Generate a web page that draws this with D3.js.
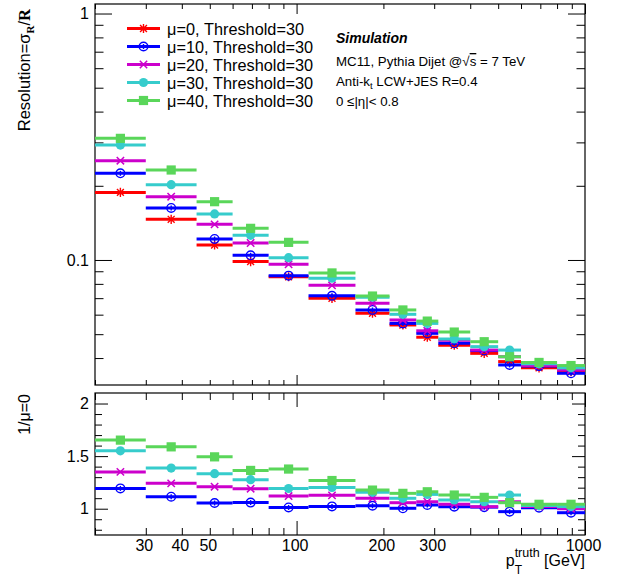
<!DOCTYPE html>
<html><head><meta charset="utf-8">
<script src="https://cdn.jsdelivr.net/npm/d3@7"></script>
<style>
body{margin:0;background:#fff;}
svg{font-family:"Liberation Sans",Arial,Helvetica,sans-serif;}
.axis path.domain{display:none;}
.axis line{stroke:#000;stroke-width:1;}
.axis text{font-size:16px;fill:#000;font-family:"Liberation Sans",Arial,sans-serif;}
</style></head>
<body><svg id="c" width="628" height="578"></svg>
<script>
// ---- data ----
const binEdges = [20,30,45,60,80,110,160,210,260,310,400,500,600,800,1000];
const seriesNames = ["μ=0, Threshold=30","μ=10, Threshold=30","μ=20, Threshold=30","μ=30, Threshold=30","μ=40, Threshold=30"];
const res_mu0  = [0.188,0.1462,0.1150,0.0985,0.0855,0.0699,0.0608,0.0545,0.0486,0.0451,0.0418,0.0387,0.0365,0.0352];
const res_mu10 = [0.2247,0.1626,0.1217,0.1045,0.0864,0.0716,0.0627,0.0553,0.0504,0.0459,0.0429,0.0375,0.0371,0.0347];
const res_mu20 = [0.2529,0.1806,0.1395,0.1172,0.0960,0.0789,0.0667,0.0571,0.0516,0.0472,0.0431,0.0405,0.0373,0.0358];
const res_mu30 = [0.2927,0.2021,0.1537,0.1259,0.1022,0.0843,0.0706,0.0602,0.0553,0.0478,0.0445,0.0431,0.0379,0.0365];
const res_mu40 = [0.3115,0.2318,0.1724,0.1344,0.1179,0.0886,0.0714,0.0627,0.0565,0.0510,0.0466,0.0405,0.0384,0.0373];
const ratio_mu10 = [1.193,1.114,1.054,1.058,1.012,1.022,1.028,1.004,1.035,1.019,1.015,0.972,1.010,0.962];
const ratio_mu20 = [1.350,1.241,1.209,1.190,1.120,1.127,1.099,1.057,1.066,1.042,1.019,1.066,1.020,1.000];
const ratio_mu30 = [1.550,1.386,1.333,1.276,1.192,1.202,1.156,1.099,1.136,1.083,1.066,1.130,1.030,1.020];
const ratio_mu40 = [1.652,1.588,1.493,1.364,1.377,1.268,1.177,1.146,1.161,1.130,1.108,1.057,1.042,1.042];
const xTickLabels = [30,40,50,100,200,300,1000];
const yTopTickLabels = [0.1,1];
const yBotTickLabels = [1,1.5,2];

// ---- styles ----
const colors = ["#ff0000","#0000ff","#cc00cc","#36cccc","#5ad65a"];
const markers = ["star","ocircle","cross","circle","square"];

const svg = d3.select("#c");
const L=95, R=585, T1=4, B1=385, T2=393, B2=535;
const x = d3.scaleLog().domain([20,1000]).range([L,R]);
const yTop = d3.scaleLog().domain([0.0311,1.093]).range([B1,T1]);
const yBot = d3.scaleLinear().domain([0.75,2.1]).range([B2,T2]);

// tick positions
const xMinor = [], xMajor=[100,1000];
for (let d of [10,100]) for (let k=2;k<=9;k++){ const v=k*d; if(v>=20 && v<1000) xMinor.push(v); }
const yTopMinor=[]; for (let d of [0.01,0.1]) for (let k=2;k<=9;k++){const v=k*d; if(v>=0.0311) yTopMinor.push(v);}
const yTopMajor=[0.1,1];
const yBotMinor = d3.range(8,21).map(v=>v/10).filter(v=>Math.abs(v*2-Math.round(v*2))>1e-6);
const yBotMajor=[1,1.5,2];

function tickAxis(g, axisFn, scale, vals, size, tr){
  g.append("g").attr("class","axis").attr("transform",tr)
   .call(axisFn(scale).tickValues(vals).tickSize(size).tickFormat(""));
}
// top panel ticks
tickAxis(svg,d3.axisTop,x,xMinor,5,`translate(0,${B1})`);
tickAxis(svg,d3.axisTop,x,xMajor,10,`translate(0,${B1})`);
tickAxis(svg,d3.axisBottom,x,xMinor,5,`translate(0,${T1})`);
tickAxis(svg,d3.axisBottom,x,xMajor,10,`translate(0,${T1})`);
tickAxis(svg,d3.axisRight,yTop,yTopMinor,8.5,`translate(${L},0)`);
tickAxis(svg,d3.axisRight,yTop,yTopMajor,17,`translate(${L},0)`);
tickAxis(svg,d3.axisLeft,yTop,yTopMinor,8.5,`translate(${R},0)`);
tickAxis(svg,d3.axisLeft,yTop,yTopMajor,17,`translate(${R},0)`);
// bottom panel ticks
tickAxis(svg,d3.axisTop,x,xMinor,7,`translate(0,${B2})`);
tickAxis(svg,d3.axisTop,x,xMajor,14,`translate(0,${B2})`);
tickAxis(svg,d3.axisBottom,x,xMinor,7,`translate(0,${T2})`);
tickAxis(svg,d3.axisBottom,x,xMajor,14,`translate(0,${T2})`);
tickAxis(svg,d3.axisRight,yBot,yBotMinor,7,`translate(${L},0)`);
tickAxis(svg,d3.axisRight,yBot,yBotMajor,13,`translate(${L},0)`);
tickAxis(svg,d3.axisLeft,yBot,yBotMinor,7,`translate(${R},0)`);
tickAxis(svg,d3.axisLeft,yBot,yBotMajor,13,`translate(${R},0)`);

// labels
svg.append("g").attr("class","axis").attr("transform",`translate(${L},0)`)
  .call(d3.axisLeft(yTop).tickValues(yTopTickLabels).tickSize(0).tickPadding(6).tickFormat(d=>d===1?"1":"0.1"));
svg.append("g").attr("class","axis").attr("transform",`translate(${L},0)`)
  .call(d3.axisLeft(yBot).tickValues(yBotTickLabels).tickSize(0).tickPadding(6).tickFormat(d=>String(d)));
svg.append("g").attr("class","axis").attr("transform",`translate(-2,${B2})`)
  .call(d3.axisBottom(x).tickValues(xTickLabels).tickSize(0).tickPadding(4.5).tickFormat(d=>String(d)));

// frames
[[T1,B1],[T2,B2]].forEach(([t,b])=>svg.append("rect").attr("x",L).attr("y",t).attr("width",R-L).attr("height",b-t)
  .attr("fill","none").attr("stroke","#000").attr("stroke-width",1.2));

// marker drawing
function drawMarker(g, type, cx, cy, color){
  const r=4.6;
  if(type==="star"){
    const p=`M${cx-r},${cy}L${cx+r},${cy}M${cx},${cy-r}L${cx},${cy+r}M${cx-r*0.75},${cy-r*0.75}L${cx+r*0.75},${cy+r*0.75}M${cx-r*0.75},${cy+r*0.75}L${cx+r*0.75},${cy-r*0.75}`;
    g.append("path").attr("d",p).attr("stroke",color).attr("stroke-width",1.4).attr("fill","none");
  } else if(type==="cross"){
    const a=r*0.8;
    g.append("path").attr("d",`M${cx-a},${cy-a}L${cx+a},${cy+a}M${cx-a},${cy+a}L${cx+a},${cy-a}`)
      .attr("stroke",color).attr("stroke-width",1.5).attr("fill","none");
  } else if(type==="ocircle"){
    g.append("circle").attr("cx",cx).attr("cy",cy).attr("r",r-0.3).attr("fill","none").attr("stroke",color).attr("stroke-width",1.4);
    g.append("line").attr("x1",cx).attr("x2",cx).attr("y1",cy-2.5).attr("y2",cy+2.5).attr("stroke",color).attr("stroke-width",1.4);
  } else if(type==="circle"){
    g.append("circle").attr("cx",cx).attr("cy",cy).attr("r",r).attr("fill",color);
  } else if(type==="square"){
    g.append("rect").attr("x",cx-r).attr("y",cy-r).attr("width",2*r).attr("height",2*r).attr("fill",color);
  }
}

function drawSeries(vals, yScale, si){
  const g = svg.append("g");
  vals.forEach((v,i)=>{
    const x0=x(binEdges[i]), x1=x(binEdges[i+1]);
    const yy=yScale(v);
    g.append("line").attr("x1",x0).attr("x2",x1).attr("y1",yy).attr("y2",yy)
      .attr("stroke",colors[si]).attr("stroke-width",3);
  });
  vals.forEach((v,i)=>{
    const xc=x(Math.sqrt(binEdges[i]*binEdges[i+1]));
    drawMarker(g, markers[si], xc, yScale(v), colors[si]);
  });
}
[res_mu0,res_mu10,res_mu20,res_mu30,res_mu40].forEach((s,i)=>drawSeries(s,yTop,i));
[ratio_mu10,ratio_mu20,ratio_mu30,ratio_mu40].forEach((s,i)=>drawSeries(s,yBot,i+1));

// legend
const lg = svg.append("g");
seriesNames.forEach((nm,i)=>{
  const cy = 28.5 + 18*i;
  lg.append("line").attr("x1",127).attr("x2",160).attr("y1",cy).attr("y2",cy).attr("stroke",colors[i]).attr("stroke-width",3);
  drawMarker(lg, markers[i], 143.5, cy, colors[i]);
  lg.append("text").attr("x",167).attr("y",cy+6).attr("font-size","16.3px").text(nm);
});

// annotation text
const tx=336;
svg.append("text").attr("x",tx).attr("y",43).attr("font-size","14px").attr("font-weight","bold").attr("font-style","italic").text("Simulation");
const t1 = svg.append("text").attr("x",tx).attr("y",66).attr("font-size","13.3px");
t1.append("tspan").text("MC11, Pythia Dijet @");
t1.append("tspan").text("√");
t1.append("tspan").style("text-decoration","overline").text("s");
t1.append("tspan").text(" = 7 TeV");
const t2 = svg.append("text").attr("x",tx).attr("y",86).attr("font-size","13.3px");
t2.append("tspan").text("Anti-k");
t2.append("tspan").attr("dy",3).attr("font-size","9.5px").text("t");
t2.append("tspan").attr("dy",-3).text(" LCW+JES R=0.4");
svg.append("text").attr("x",tx).attr("y",106).attr("font-size","13.3px").text("0 ≤|η|< 0.8");

// y titles
const yt = svg.append("text").attr("transform","translate(30,9) rotate(-90)").attr("text-anchor","end").attr("font-size","16.5px");
yt.append("tspan").text("Resolution=σ");
yt.append("tspan").attr("dy",4).attr("font-size","11px").attr("font-family","Liberation Serif,Times New Roman,serif").attr("font-weight","bold").text("R");
yt.append("tspan").attr("dy",-4).text("/");
yt.append("tspan").attr("font-family","Liberation Serif,Times New Roman,serif").attr("font-weight","bold").text("R");
svg.append("text").attr("transform","translate(30,394) rotate(-90)").attr("text-anchor","end").attr("font-size","16px").text("1/μ=0");

// x title
const xt = svg.append("text").attr("x",R).attr("y",566).attr("text-anchor","end").attr("font-size","16px");
xt.append("tspan").text("p");
xt.append("tspan").attr("dy",-9).attr("font-size","12.5px").text("truth");
xt.append("tspan").attr("dy",9).text("  [GeV]");
const bb = xt.node().getBBox();
svg.append("text").attr("x",bb.x+9).attr("y",574).attr("font-size","12px").text("T");
</script></body></html>
